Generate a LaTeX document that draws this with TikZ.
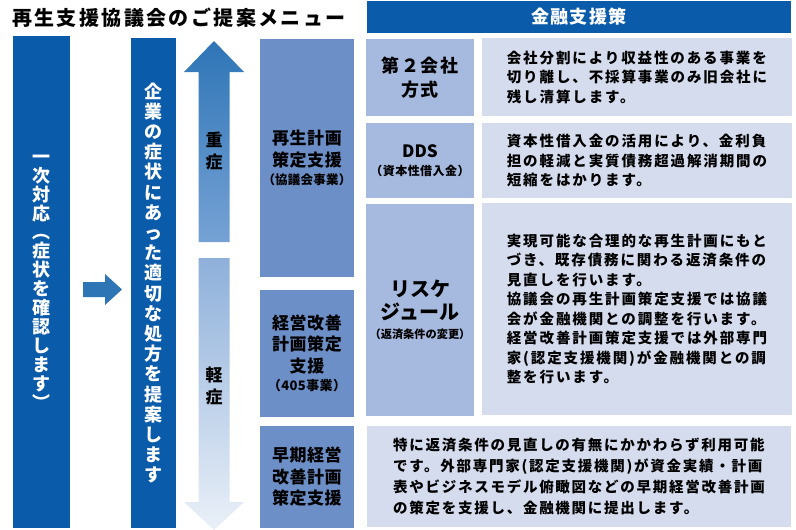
\documentclass[tikz,border=0pt]{standalone}
\usepackage{fontspec}
\setmainfont{Noto Sans CJK JP}
\usetikzlibrary{positioning,calc}
\definecolor{navy}{HTML}{0B5BAB}
\definecolor{midblue}{HTML}{6C8FC8}
\definecolor{lightblue}{HTML}{A6B9DE}
\definecolor{paleblue}{HTML}{D5DCEE}
\definecolor{arrowblue}{HTML}{2E75B6}
\definecolor{upbottom}{HTML}{76A2D5}
\definecolor{downtop}{HTML}{8EB0DA}
\definecolor{downbottom}{HTML}{EAF0F8}
\newcommand\jfs[2]{\fontsize{#1}{#2}\selectfont}
\tikzset{
box/.style={
  anchor=north west,
  inner sep=0pt,
  outer sep=0pt,
  align=center
},
navybox/.style={box, fill=navy, text=white, font=\bfseries\jfs{18}{20}},
midbox/.style={box, fill=midblue, minimum width=94pt, font=\bfseries\jfs{17}{21.5}\addfontfeatures{LetterSpace=3}},
lightbox/.style={box, fill=lightblue, minimum width=108pt, font=\bfseries\jfs{18}{23.5}\addfontfeatures{LetterSpace=8}},
palebox/.style={box, fill=paleblue, align=left, font=\bfseries\jfs{14.5}{19.5}\addfontfeatures{LetterSpace=13}},
tate/.style={navybox, font=\bfseries\jfs{18}{#1}},
arrowtext/.style={align=center, inner sep=0pt, font=\bfseries\jfs{17}{22.5}},
}
\begin{document}
\begin{tikzpicture}[x=1pt,y=-1pt]
\useasboundingbox (0,0) rectangle (796,530);
% title and header
\node[anchor=west, inner sep=0pt, font=\bfseries\jfs{20}{22}\addfontfeatures{LetterSpace=12}] (title) at (12,18) {再生支援協議会のご提案メニュー};
\node[navybox, minimum width=424pt, minimum height=32pt, font=\bfseries\jfs{18}{20}\addfontfeatures{LetterSpace=6}] (hdr) at (367,1) {金融支援策};

% vertical columns
\node[tate=18.9, minimum width=57pt, minimum height=492pt] (first) at (13,36)
  {一\\次\\対\\応\\︵\\症\\状\\を\\確\\認\\し\\ま\\す\\︶};
\node[tate=20.2, minimum width=45pt, minimum height=490pt] (advice) at (131,38)
  {企\\業\\の\\症\\状\\に\\あ\\っ\\た\\適\\切\\な\\処\\方\\を\\提\\案\\し\\ま\\す};
\fill[arrowblue] (83,282) -- (105,282) -- (105,274) -- (122,289.5) -- (105,305) -- (105,297) -- (83,297) -- cycle;

% severity arrows
\shade[top color=arrowblue, bottom color=upbottom]
  (214,41) -- (244,72) -- (229.5,72) -- (229.5,242) -- (198.5,242) -- (198.5,72) -- (184,72) -- cycle;
\shade[top color=downtop, bottom color=downbottom]
  (198.5,258) -- (229.5,258) -- (229.5,502) -- (244,502) -- (214,530) -- (184,502) -- (198.5,502) -- cycle;
\node[arrowtext] (heavy) at (214,151) {重\\症};
\node[arrowtext] (mild) at (214,386) {軽\\症};

% support programmes
\node[midbox, minimum height=238pt] (saisei) at (260,39)
  {再生計画\\策定支援\\[-3pt]{\jfs{12.5}{13}\addfontfeatures{LetterSpace=2}（協議会事業）}};
\node[midbox, minimum height=127pt] (keiei) at (260,290)
  {経営改善\\計画策定\\支援\\[-3pt]{\jfs{13}{15}（405事業）}};
\node[midbox, minimum height=102pt] (souki) at (260,426)
  {早期経営\\改善計画\\策定支援};

% measures
\node[lightbox, minimum height=77pt] (daini) at (366,39) {第２会社\\方式};
\node[lightbox, minimum height=75pt] (dds) at (366,123)
  {{\jfs{17}{20}\addfontfeatures{LetterSpace=0}DDS}\\[-5pt]{\jfs{12}{13}\addfontfeatures{LetterSpace=4}（資本性借入金）}};
\node[lightbox, minimum height=212pt, font=\bfseries\jfs{20}{23}\addfontfeatures{LetterSpace=0}] (resche) at (366,204)
  {リスケ\\ジュール\\[-4pt]{\jfs{11.2}{13}（返済条件の変更）}};

% descriptions
\node[palebox, minimum width=310pt, minimum height=78pt] (daini-txt) at (482,38)
  {会社分割により収益性のある事業を\\切り離し、不採算事業のみ旧会社に\\残し清算します。};
\node[palebox, minimum width=310pt, minimum height=75pt] (dds-txt) at (482,123)
  {資本性借入金の活用により、金利負\\担の軽減と実質債務超過解消期間の\\短縮をはかります。};
\node[palebox, minimum width=310pt, minimum height=212pt] (resche-txt) at (482,203)
  {実現可能な合理的な再生計画にもと\\づき、既存債務に関わる返済条件の\\見直しを行います。\\協議会の再生計画策定支援では協議\\会が金融機関との調整を行います。\\経営改善計画策定支援では外部専門\\家(認定支援機関)が金融機関との調\\整を行います。};
\node[palebox, minimum width=424pt, minimum height=101pt, font=\bfseries\jfs{14.5}{20.7}\addfontfeatures{LetterSpace=12}] (souki-txt) at (367,426)
  {特に返済条件の見直しの有無にかかわらず利用可能\\です。外部専門家(認定支援機関)が資金実績・計画\\表やビジネスモデル俯瞰図などの早期経営改善計画\\の策定を支援し、金融機関に提出します。};
\end{tikzpicture}
\end{document}
